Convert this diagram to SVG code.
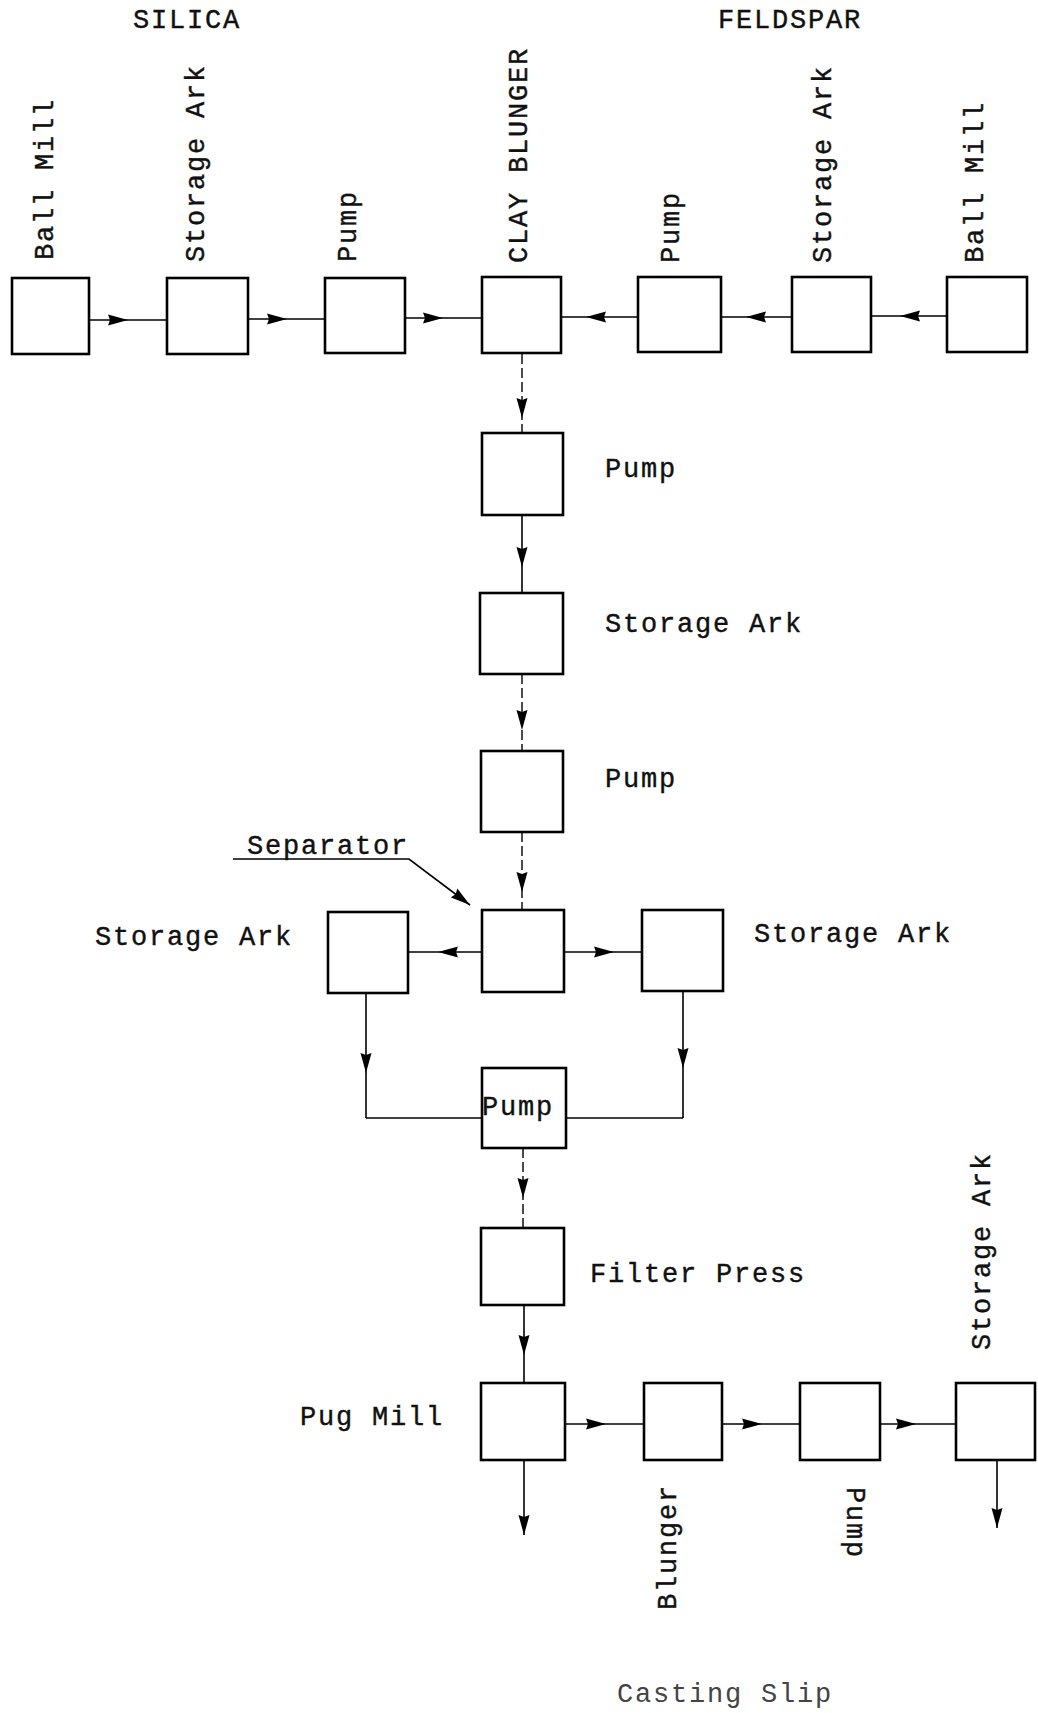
<svg xmlns="http://www.w3.org/2000/svg" width="1038" height="1713" viewBox="0 0 1038 1713">
<style>
.bx{fill:#fff;stroke:#000;stroke-width:2.6}
.t{font-family:"Liberation Mono","DejaVu Sans Mono",monospace;font-size:27px;letter-spacing:1.8px;fill:#111;stroke:#111;stroke-width:0.4}
.c{fill:none;stroke:#000;stroke-width:1.6}
.d{fill:none;stroke:#000;stroke-width:1.4;stroke-dasharray:10 4}
.cs{fill:#444;stroke:none}
</style>
<defs>
<marker id="a" markerUnits="userSpaceOnUse" viewBox="0 0 20 12" refX="20" refY="6" markerWidth="20" markerHeight="12" orient="auto">
<path d="M0,0.5 L20,6 L0,11.5 L2,6 z" fill="#000"/>
</marker>
</defs>
<rect width="1038" height="1713" fill="#fff"/>

<g id="connectors">
<polyline class="c" points="89,320 128,320 167,320" marker-mid="url(#a)"/>
<polyline class="c" points="248,319 287,319 325,319" marker-mid="url(#a)"/>
<polyline class="c" points="405,318 443,318 482,318" marker-mid="url(#a)"/>
<polyline class="c" points="638,317 586,317 561,317" marker-mid="url(#a)"/>
<polyline class="c" points="792,317 746,317 721,317" marker-mid="url(#a)"/>
<polyline class="c" points="947,316 900,316 871,316" marker-mid="url(#a)"/>
<polyline class="d" points="522,354 522,418 522,433" marker-mid="url(#a)"/>
<polyline class="c" points="522,515 522,567 522,593" marker-mid="url(#a)"/>
<polyline class="d" points="522,674 522,730 522,751" marker-mid="url(#a)"/>
<polyline class="d" points="522,832 522,892 522,910" marker-mid="url(#a)"/>
<polyline class="c" points="482,952 438,952 408,952" marker-mid="url(#a)"/>
<polyline class="c" points="564,952 614,952 642,952" marker-mid="url(#a)"/>
<polyline class="c" points="366,993 366,1073 366,1118" marker-mid="url(#a)"/>
<polyline class="c" points="366,1118 482,1118"/>
<polyline class="c" points="683,991 683,1068 683,1118" marker-mid="url(#a)"/>
<polyline class="c" points="683,1118 566,1118"/>
<polyline class="d" points="523,1148 523,1198 523,1228" marker-mid="url(#a)"/>
<polyline class="c" points="524,1305 524,1355 524,1383" marker-mid="url(#a)"/>
<line class="c" x1="524" y1="1460" x2="524" y2="1535" marker-end="url(#a)"/>
<polyline class="c" points="565,1424 606,1424 644,1424" marker-mid="url(#a)"/>
<polyline class="c" points="722,1424 762,1424 800,1424" marker-mid="url(#a)"/>
<polyline class="c" points="880,1424 916,1424 956,1424" marker-mid="url(#a)"/>
<line class="c" x1="997" y1="1460" x2="997" y2="1528" marker-end="url(#a)"/>
<polyline class="c" points="233,859 409,859 470,905" marker-end="url(#a)"/>
</g>

<g id="silica-ball-mill"><rect class="bx" x="12" y="278" width="77" height="76"/>
<text class="t" transform="translate(53,260) rotate(-90)">Ball Mill</text></g>
<g id="silica-storage-ark"><rect class="bx" x="167" y="278" width="81" height="76"/>
<text class="t" transform="translate(204,262) rotate(-90)">Storage Ark</text></g>
<g id="silica-pump"><rect class="bx" x="325" y="278" width="80" height="75"/>
<text class="t" transform="translate(356,262) rotate(-90)">Pump</text></g>
<g id="clay-blunger"><rect class="bx" x="482" y="277" width="79" height="76"/>
<text class="t" transform="translate(527,263) rotate(-90)">CLAY BLUNGER</text></g>
<g id="feldspar-pump"><rect class="bx" x="638" y="277" width="83" height="75"/>
<text class="t" transform="translate(679,263) rotate(-90)">Pump</text></g>
<g id="feldspar-storage-ark"><rect class="bx" x="792" y="277" width="79" height="75"/>
<text class="t" transform="translate(831,263) rotate(-90)">Storage Ark</text></g>
<g id="feldspar-ball-mill"><rect class="bx" x="947" y="277" width="80" height="75"/>
<text class="t" transform="translate(983,263) rotate(-90)">Ball Mill</text></g>

<g id="silica-label"><text class="t" x="133" y="28">SILICA</text></g>
<g id="feldspar-label"><text class="t" x="718" y="28">FELDSPAR</text></g>

<g id="pump-1"><rect class="bx" x="482" y="433" width="81" height="82"/>
<text class="t" x="605" y="477">Pump</text></g>
<g id="storage-ark-1"><rect class="bx" x="480" y="593" width="83" height="81"/>
<text class="t" x="605" y="632">Storage Ark</text></g>
<g id="pump-2"><rect class="bx" x="481" y="751" width="82" height="81"/>
<text class="t" x="605" y="787">Pump</text></g>
<g id="separator"><rect class="bx" x="482" y="910" width="82" height="82"/>
<text class="t" x="247" y="854">Separator</text></g>
<g id="storage-ark-left"><rect class="bx" x="328" y="912" width="80" height="81"/>
<text class="t" x="95" y="945">Storage Ark</text></g>
<g id="storage-ark-right"><rect class="bx" x="642" y="910" width="81" height="81"/>
<text class="t" x="754" y="942">Storage Ark</text></g>
<g id="pump-3"><rect class="bx" x="482" y="1068" width="84" height="80"/>
<text class="t" x="482" y="1115">Pump</text></g>
<g id="filter-press"><rect class="bx" x="481" y="1228" width="83" height="77"/>
<text class="t" x="590" y="1282">Filter Press</text></g>
<g id="pug-mill"><rect class="bx" x="481" y="1383" width="84" height="77"/>
<text class="t" x="300" y="1425">Pug Mill</text></g>
<g id="blunger"><rect class="bx" x="644" y="1383" width="78" height="77"/>
<text class="t" transform="translate(676,1610) rotate(-90)">Blunger</text></g>
<g id="pump-4"><rect class="bx" x="800" y="1383" width="80" height="77"/>
<text class="t" transform="translate(847,1487) rotate(90)">Pump</text></g>
<g id="storage-ark-final"><rect class="bx" x="956" y="1383" width="79" height="77"/>
<text class="t" transform="translate(990,1350) rotate(-90)">Storage Ark</text></g>
<g id="casting-slip"><text class="t cs" x="617" y="1702">Casting Slip</text></g>
</svg>
